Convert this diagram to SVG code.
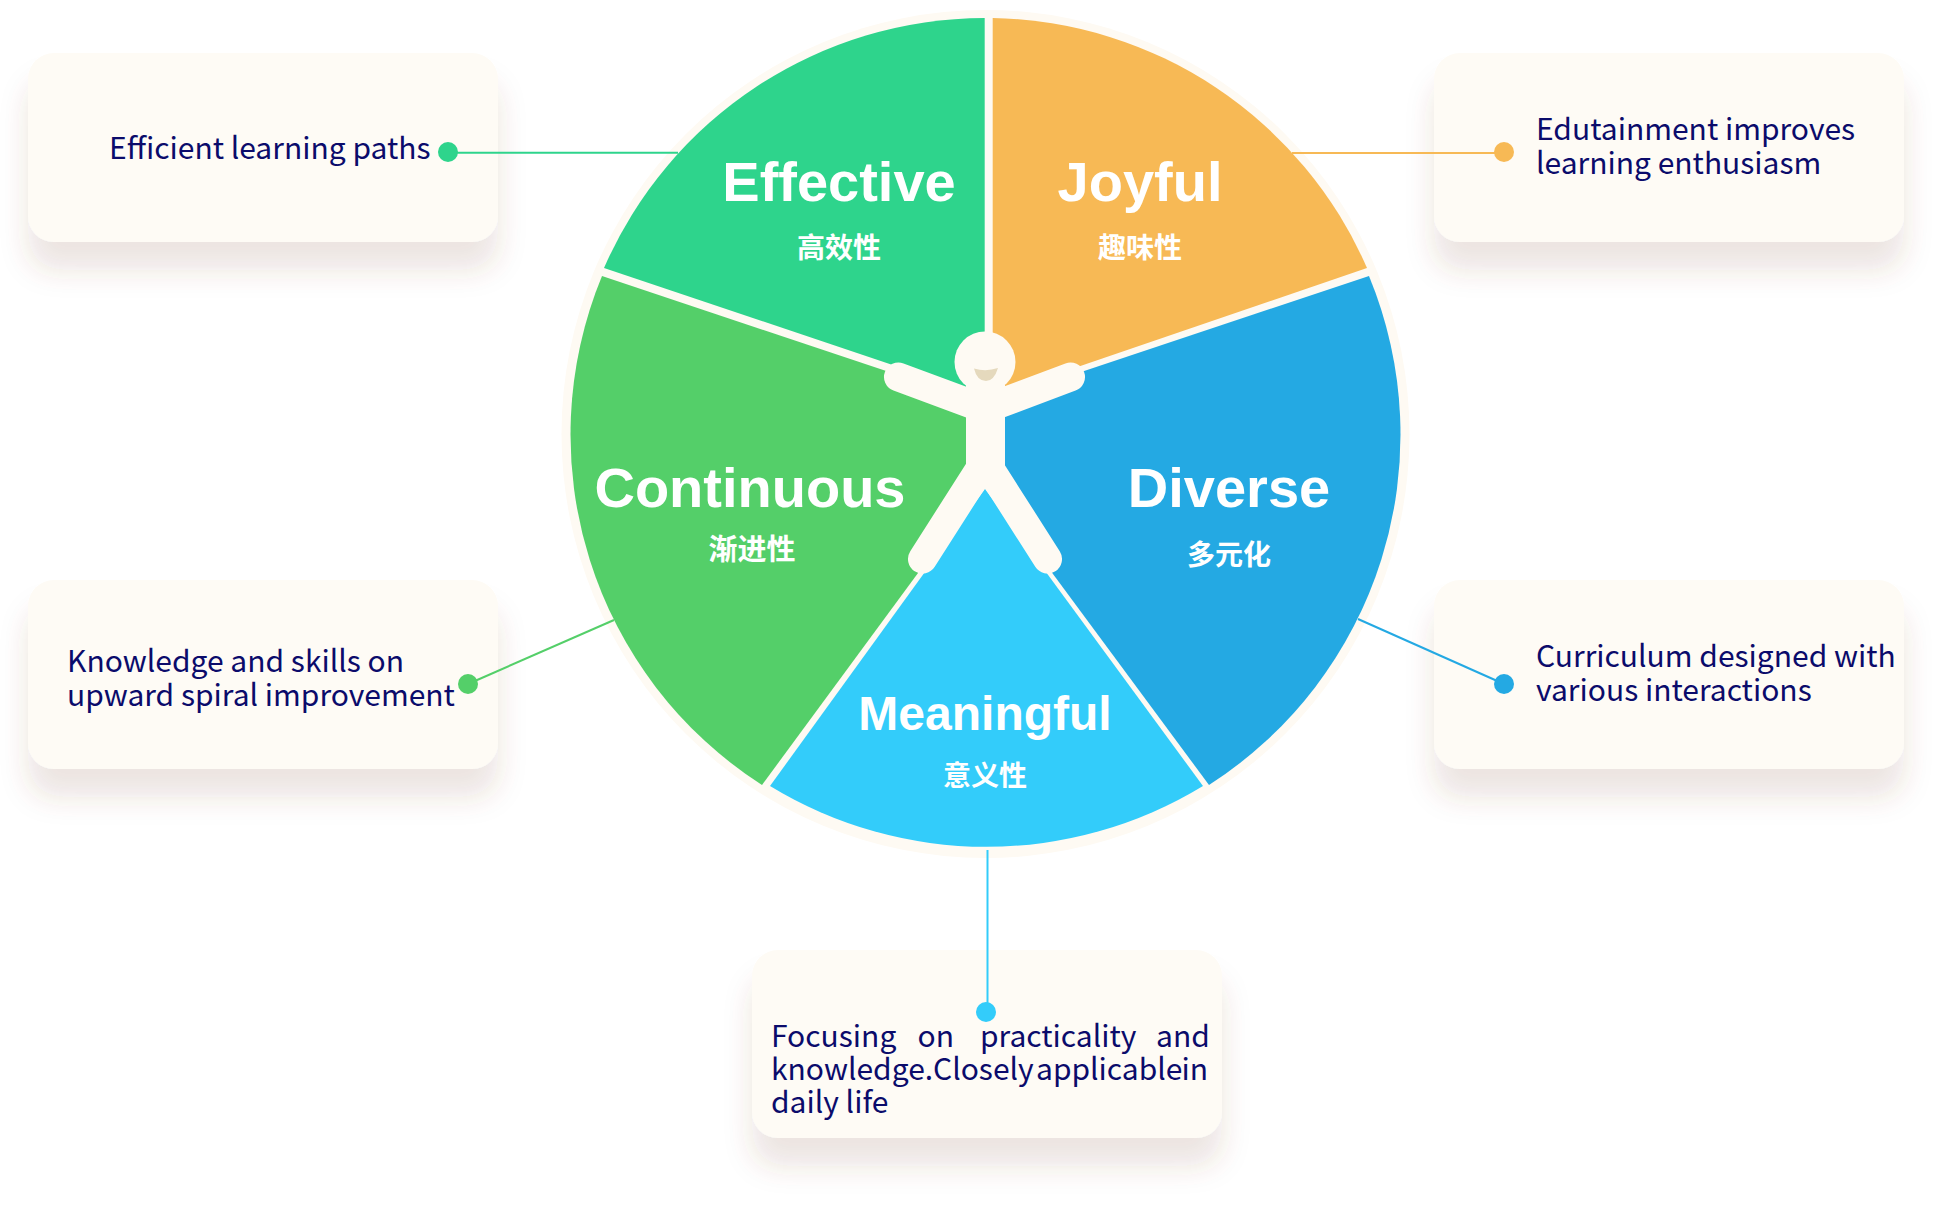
<svg xmlns="http://www.w3.org/2000/svg" width="1952" height="1206" viewBox="0 0 1952 1206">
<defs>
<style>
.card{fill:#fefbf5;filter:url(#sh)}
.t{font-family:"Noto Sans CJK SC","Noto Sans",sans-serif;font-size:30px;fill:#0b0b6b}
.h{font-family:"Liberation Sans",Arial,sans-serif;font-weight:700;font-size:56px;fill:#fff;text-anchor:middle}
.c{font-family:"Noto Sans CJK SC",sans-serif;font-weight:700;font-size:28px;fill:#fff;text-anchor:middle}
.cn{fill:none;stroke-width:2}
.body{stroke:#fefaf3;stroke-width:29;stroke-linecap:round;fill:none}
</style>
<filter id="sh" x="-20%" y="-20%" width="140%" height="170%"><feDropShadow dx="0" dy="28" stdDeviation="14" flood-color="#7a4a30" flood-opacity="0.14"/></filter>
</defs>
<rect width="1952" height="1206" fill="#fff"/>
<g id="card-effective"><rect class="card" x="28" y="53" width="470" height="189" rx="26"/></g>
<g id="card-joyful"><rect class="card" x="1434" y="53" width="470" height="189" rx="26"/></g>
<g id="card-continuous"><rect class="card" x="28" y="580" width="470" height="189" rx="26"/></g>
<g id="card-diverse"><rect class="card" x="1434" y="580" width="470" height="189" rx="26"/></g>
<g id="card-meaningful"><rect class="card" x="752" y="950" width="470" height="188" rx="26"/></g>
<g id="wheel">
<circle cx="985.5" cy="434" r="424" fill="#fefaf3"/>
<path d="M984.7 18A416 416 0 0 0 604 268L984.7 396Z" fill="#2ed48c"/>
<path d="M992.7 18A416 416 0 0 1 1367 268L992.7 396Z" fill="#f7b955"/>
<path d="M602 276A416 416 0 0 0 762 785L985 482L985 404Z" fill="#54cf69"/>
<path d="M1369 276A416 416 0 0 1 1209 785L985 482L985 404Z" fill="#24a9e3"/>
<path d="M985 489L770 786A416 416 0 0 0 1203 786Z" fill="#33ccfa"/>
</g>
<g id="figure">
<path class="body" d="M898.5 377L985 409L1070.5 377"/>
<path class="body" d="M922.5 559L985 461L1047.5 559"/>
<rect x="966" y="385" width="39" height="90" fill="#fefaf3"/>
<circle cx="985" cy="362" r="30.5" fill="#fefaf3"/>
<path d="M974 368.5Q986 372 998 368Q994 381 986 381Q977 381 974 368.5Z" fill="#e5d9bd"/>
</g>
<g id="connectors">
<path class="cn" d="M448 152.7H678" stroke="#2ed48c"/>
<path class="cn" d="M1504 153H1292" stroke="#f7b955"/>
<path class="cn" d="M468 684L614 620" stroke="#54cf69"/>
<path class="cn" d="M1504 684L1358 619" stroke="#24a9e3"/>
<path class="cn" d="M987.5 850L987.5 1012" stroke="#33ccfa"/>
<circle cx="448" cy="152" r="10" fill="#2ed48c"/>
<circle cx="1504" cy="152" r="10" fill="#f7b955"/>
<circle cx="468" cy="684" r="10" fill="#54cf69"/>
<circle cx="1504" cy="684" r="10" fill="#24a9e3"/>
<circle cx="986" cy="1012" r="10" fill="#33ccfa"/>
</g>
<g id="labels">
<text class="h" x="839" y="201">Effective</text><text class="c" x="839" y="258">高效性</text>
<text class="h" x="1140" y="201">Joyful</text><text class="c" x="1140" y="258">趣味性</text>
<text class="h" x="750" y="507">Continuous</text><text class="c" x="752" y="560" style="font-size:29px">渐进性</text>
<text class="h" x="1229" y="507">Diverse</text><text class="c" x="1229" y="565">多元化</text>
<text class="h" x="985" y="730" style="font-size:48px">Meaningful</text><text class="c" x="985" y="786">意义性</text>
</g>
<g id="texts">
<text class="t" x="109" y="159">Efficient learning paths</text>
<text class="t" x="1536" y="140">Edutainment improves</text><text class="t" x="1536" y="174">learning enthusiasm</text>
<text class="t" x="67" y="672">Knowledge and skills on</text><text class="t" x="67" y="706">upward spiral improvement</text>
<text class="t" x="1536" y="667">Curriculum designed with</text><text class="t" x="1536" y="701">various interactions</text>
<text class="t" y="1047"><tspan x="771">Focusing</tspan><tspan x="917.5">on</tspan><tspan x="980">practicality</tspan><tspan x="1156">and</tspan></text>
<text class="t" y="1080"><tspan x="771">knowledge.</tspan><tspan x="933">Closely</tspan><tspan x="1036">applicable</tspan><tspan x="1181.5">in</tspan></text>
<text class="t" x="771" y="1113">daily life</text>
</g>
</svg>
